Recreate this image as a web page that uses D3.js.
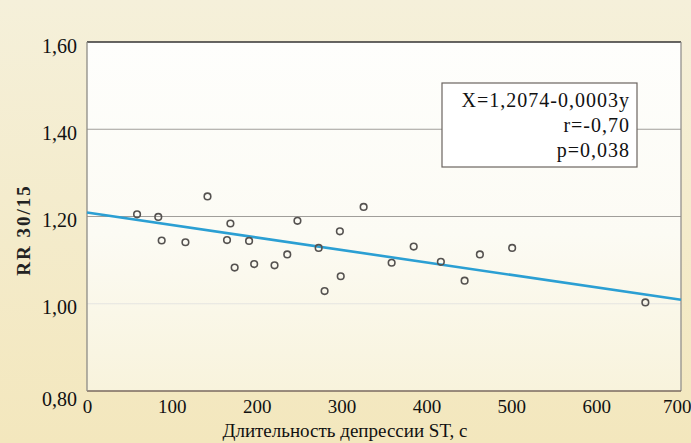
<!DOCTYPE html>
<html>
<head>
<meta charset="utf-8">
<script src="https://cdn.jsdelivr.net/npm/d3@7"></script>
<style>
  html, body { margin: 0; padding: 0; }
  body { width: 691px; height: 443px; overflow: hidden; }
  svg { display: block; font-family: "Liberation Serif", "DejaVu Serif", serif; }
</style>
</head>
<body>
<script>
// data
const durationST = [59, 84, 88, 116, 142, 165, 169, 174, 191, 197, 221, 236, 248, 273, 280, 298, 299, 326, 359, 385, 417, 445, 463, 501, 658];
const rr3015 = [1.205, 1.199, 1.145, 1.141, 1.246, 1.146, 1.184, 1.083, 1.144, 1.091, 1.088, 1.113, 1.190, 1.128, 1.029, 1.166, 1.063, 1.222, 1.094, 1.131, 1.096, 1.053, 1.113, 1.128, 1.003];
const fitX = [0, 700];
const fitY = [1.209, 1.009];
const yTicks = [0.8, 1.0, 1.2, 1.4, 1.6];
const xTicks = [0, 100, 200, 300, 400, 500, 600, 700];
const gridValues = [1.0, 1.2, 1.4];
const statLines = ["X=1,2074-0,0003y", "r=-0,70", "p=0,038"];

const W = 691, H = 443;
const margin = {top: 42, right: 10, bottom: 52, left: 87};
const width = W - margin.left - margin.right,
      height = H - margin.top - margin.bottom;

const svg = d3.select('body').append('svg')
  .attr('width', W)
  .attr('height', H);

const defs = svg.append('defs');
const bgGrad = defs.append('linearGradient').attr('id', 'bg').attr('x1', 0).attr('y1', 0).attr('x2', 0).attr('y2', 1);
bgGrad.append('stop').attr('offset', '0%').attr('stop-color', '#f5f0da');
bgGrad.append('stop').attr('offset', '100%').attr('stop-color', '#f3e7bd');
const plotGrad = defs.append('linearGradient').attr('id', 'plotbg').attr('x1', 0).attr('y1', 0).attr('x2', 0).attr('y2', 1);
plotGrad.append('stop').attr('offset', '0%').attr('stop-color', '#fefefc');
plotGrad.append('stop').attr('offset', '55%').attr('stop-color', '#fcfbf4');
plotGrad.append('stop').attr('offset', '100%').attr('stop-color', '#f8f3dc');

svg.append('rect').attr('width', W).attr('height', H).attr('fill', 'url(#bg)');

const g = svg.append('g')
  .attr('transform', 'translate(' + margin.left + ',' + margin.top + ')');

const x = d3.scaleLinear().domain([0, 700]).range([0, width]);
const y = d3.scaleLinear().domain([0.8, 1.6]).range([height, 0]);
const fmt = d => d3.format('.2f')(d).replace('.', ',');

g.append('rect')
  .attr('width', width)
  .attr('height', height)
  .attr('fill', 'url(#plotbg)');

// grid
g.selectAll('.grid')
  .data(gridValues)
  .enter()
  .append('line')
  .attr('class', 'grid')
  .attr('x1', 0)
  .attr('x2', width)
  .attr('y1', d => y(d))
  .attr('y2', d => y(d))
  .attr('stroke', d => d === 1.0 ? '#e4e4e0' : '#a09e9a')
  .attr('stroke-width', 1.2);

// frame
g.append('line').attr('x1', 0).attr('x2', width).attr('y1', 0).attr('y2', 0)
  .attr('stroke', '#333').attr('stroke-width', 1.3);
g.append('line').attr('x1', width).attr('x2', width).attr('y1', 0).attr('y2', height)
  .attr('stroke', '#8a8886').attr('stroke-width', 1.2);
g.append('line').attr('x1', 0).attr('x2', width).attr('y1', height).attr('y2', height)
  .attr('stroke', '#7a6a60').attr('stroke-width', 1.3);
g.append('line').attr('x1', 0).attr('x2', 0).attr('y1', 0).attr('y2', height)
  .attr('stroke', '#8d8b86').attr('stroke-width', 1.3);

// axes labels
const yAxis = d3.axisLeft(y).tickValues(yTicks).tickSize(0).tickPadding(10).tickFormat(fmt);
const yg = g.append('g').call(yAxis);
yg.select('.domain').remove();
yg.selectAll('text')
  .attr('font-size', '20px')
  .attr('fill', '#111')
  .attr('font-family', '"Liberation Serif", serif')
  .attr('dy', d => d === 0.8 ? '0.72em' : '0.5em');

const xAxis = d3.axisBottom(x).tickValues(xTicks).tickSize(0).tickPadding(9);
const xg = g.append('g').attr('transform', 'translate(0,' + height + ')').call(xAxis);
xg.select('.domain').remove();
xg.selectAll('text')
  .attr('font-size', '19px')
  .attr('fill', '#111')
  .attr('font-family', '"Liberation Serif", serif');
xg.selectAll('text').filter(d => d === 700)
  .attr('text-anchor', 'end')
  .attr('dx', '0.52em');

// axis titles
svg.append('text')
  .attr('x', 345)
  .attr('y', 437)
  .attr('text-anchor', 'middle')
  .attr('font-size', '19px')
  .attr('fill', '#111')
  .text('Длительность депрессии ST, с');

svg.append('text')
  .attr('transform', 'translate(30,230) rotate(-90)')
  .attr('text-anchor', 'middle')
  .attr('font-size', '19px')
  .attr('font-weight', 'bold')
  .attr('letter-spacing', '2px')
  .attr('fill', '#222')
  .text('RR 30/15');

// regression line
const line = d3.line().x(d => x(d[0])).y(d => y(d[1]));
g.append('path')
  .datum(d3.zip(fitX, fitY))
  .attr('d', line)
  .attr('fill', 'none')
  .attr('stroke', '#2b9fd3')
  .attr('stroke-width', 2.6);

// points
g.selectAll('.pt')
  .data(d3.zip(durationST, rr3015))
  .enter()
  .append('circle')
  .attr('class', 'pt')
  .attr('cx', d => x(d[0]))
  .attr('cy', d => y(d[1]))
  .attr('r', 3.3)
  .attr('fill', 'none')
  .attr('stroke', '#555250')
  .attr('stroke-width', 1.6);

// stats box
const box = svg.append('g').attr('transform', 'translate(442,83)');
box.append('rect')
  .attr('width', 195)
  .attr('height', 84)
  .attr('fill', '#ffffff')
  .attr('stroke', '#6b6460')
  .attr('stroke-width', 1.2);
box.selectAll('text')
  .data(statLines)
  .enter()
  .append('text')
  .attr('x', 188)
  .attr('y', (d, i) => 24 + i * 25)
  .attr('text-anchor', 'end')
  .attr('font-size', '20px')
  .attr('letter-spacing', '1px')
  .attr('fill', '#111')
  .text(d => d);
</script>
</body>
</html>
